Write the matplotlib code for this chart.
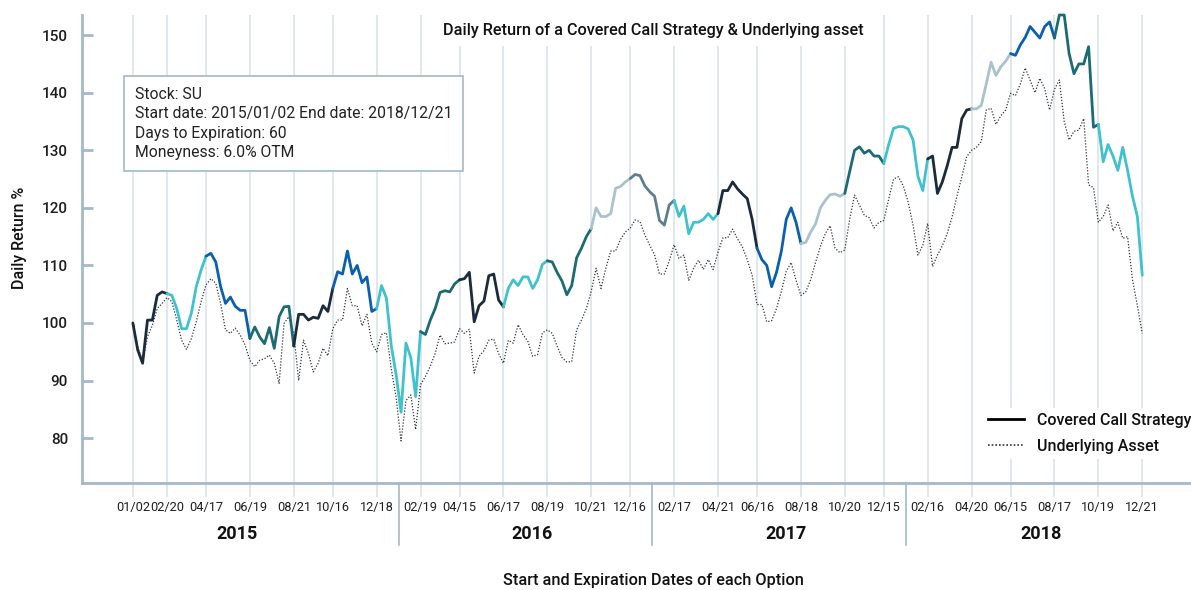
import matplotlib
matplotlib.use("Agg")
import matplotlib.pyplot as plt
import matplotlib.transforms as mtransforms
import numpy as np
import pandas as pd

plt.rcParams['font.family'] = ['Roboto', 'DejaVu Sans']

# weekly readings (every Friday from 2015-01-02 to 2018-12-21)
covered_call = [
    100.0, 95.3, 93.0, 100.5, 100.5, 104.8, 105.4, 105.1, 104.8, 102.5,
    99.0, 99.0, 101.7, 106.3, 109.2, 111.6, 112.1, 110.6, 106.3, 103.4,
    104.5, 102.9, 102.2, 102.2, 97.3, 99.3, 97.6, 96.4, 99.2, 95.6,
    101.1, 102.8, 102.9, 96.0, 101.5, 101.5, 100.5, 101.0, 100.8, 103.0,
    102.0, 106.0, 108.9, 108.5, 112.5, 108.5, 110.0, 107.0, 108.0, 102.0,
    102.5, 106.5, 104.3, 96.0, 91.0, 84.5, 96.5, 94.0, 87.2, 98.5,
    98.0, 100.5, 102.5, 105.3, 105.6, 105.4, 106.8, 107.5, 107.7, 108.8,
    100.2, 103.0, 103.8, 108.2, 108.5, 104.0, 102.8, 106.0, 107.5, 106.5,
    108.0, 108.0, 106.0, 107.5, 110.2, 110.8, 110.6, 108.8, 107.3, 104.9,
    106.5, 111.3, 113.0, 115.0, 116.4, 120.0, 118.5, 118.5, 119.0, 123.4,
    123.7, 124.5, 125.1, 125.8, 125.6, 123.8, 122.8, 122.0, 117.8, 117.0,
    120.5, 121.3, 118.5, 120.3, 115.5, 117.5, 117.5, 118.0, 119.0, 118.0,
    119.0, 123.0, 123.0, 124.5, 123.3, 122.4, 121.6, 118.0, 113.0, 111.0,
    110.0, 106.3, 108.8, 112.5, 118.0, 120.0, 117.5, 113.8, 114.0, 115.8,
    117.2, 120.0, 121.3, 122.3, 122.4, 122.0, 122.5, 126.3, 130.0, 130.6,
    129.5, 130.0, 129.0, 129.0, 127.7, 131.0, 133.8, 134.1, 134.1, 133.7,
    131.8, 125.5, 123.0, 128.5, 129.0, 122.5, 124.5, 127.3, 130.5, 130.5,
    135.5, 137.0, 137.2, 137.2, 137.8, 141.5, 145.3, 143.0, 144.5, 145.5,
    146.8, 146.5, 148.3, 149.6, 151.5, 150.5, 149.5, 151.5, 152.3, 149.5,
    153.5, 153.5, 146.8, 143.3, 145.0, 145.0, 148.0, 134.0, 134.5, 128.0,
    131.0, 129.0, 126.5, 130.5, 126.5, 122.0, 118.5, 108.3,
]

underlying = [
    100.0, 95.9, 93.3, 97.6, 99.6, 102.5, 103.4, 104.4, 103.7, 100.5,
    97.0, 95.4, 97.3, 100.2, 103.7, 106.6, 107.7, 106.9, 103.4, 98.8,
    98.2, 99.1, 97.9, 96.2, 93.5, 92.4, 93.5, 93.8, 94.4, 93.0,
    89.5, 99.9, 101.1, 98.2, 90.0, 97.0, 94.7, 91.5, 93.0, 95.6,
    94.3, 99.0, 100.5, 100.5, 106.0, 103.0, 103.0, 99.5, 101.5, 96.5,
    95.0, 98.0, 98.3, 92.0, 87.0, 79.5, 86.5, 87.5, 81.5, 89.3,
    90.7, 92.5, 94.7, 97.9, 96.4, 96.5, 96.7, 99.0, 98.2, 98.9,
    91.3, 94.2, 95.2, 97.0, 97.2, 94.7, 93.0, 97.0, 96.5, 99.7,
    98.0, 96.8, 94.2, 94.5, 98.3, 98.8, 98.2, 96.0, 94.0, 93.2,
    93.3, 98.8, 100.5, 102.5, 105.5, 109.5, 106.0, 109.5, 112.5, 112.5,
    114.5, 115.8, 116.5, 117.9, 117.6, 115.3, 113.5, 111.8, 108.5, 108.5,
    110.8, 113.6, 111.2, 111.8, 107.4, 109.5, 110.9, 109.3, 111.0, 109.3,
    112.3, 114.8, 114.8, 116.3, 114.6, 113.2, 111.0, 108.3, 103.2, 103.2,
    100.2, 100.4, 102.5, 105.5, 109.0, 110.5, 107.4, 104.8, 105.4, 107.5,
    110.5, 113.3, 115.5, 116.9, 113.0, 112.2, 112.7, 118.0, 122.2, 120.5,
    118.7, 118.3, 116.5, 117.5, 117.8, 121.5, 125.0, 125.4, 123.8, 121.0,
    117.0, 111.8, 113.5, 117.3, 109.8, 111.8, 113.4, 115.5, 118.4, 122.0,
    125.4, 128.9, 130.0, 130.5, 131.5, 137.0, 137.3, 134.5, 136.0, 137.0,
    139.9, 139.5, 141.5, 144.3, 142.2, 140.0, 142.5, 140.7, 137.0, 140.6,
    142.2, 135.0, 131.8, 133.3, 133.5, 135.5, 124.0, 123.5, 117.5, 118.5,
    120.5, 116.0, 117.5, 114.7, 115.0, 107.5, 103.0, 98.2,
]

# option start / expiration dates
expirations = [
    '2015-01-02', '2015-02-20', '2015-04-17', '2015-06-19', '2015-08-21', '2015-10-16', '2015-12-18',
    '2016-02-19', '2016-04-15', '2016-06-17', '2016-08-19', '2016-10-21', '2016-12-16',
    '2017-02-17', '2017-04-21', '2017-06-16', '2017-08-18', '2017-10-20', '2017-12-15',
    '2018-02-16', '2018-04-20', '2018-06-15', '2018-08-17', '2018-10-19', '2018-12-21',
]
years = ['2015', '2016', '2017', '2018']

navy, cyan, blue, teal, slate, pale = '#1a2b3c', '#3fc2cd', '#0a5fae', '#1d6b72', '#5c7e90', '#a9c2ce'
segment_colors = [
    navy, cyan, blue, teal, navy, blue, cyan,
    teal, navy, cyan, teal, pale, slate,
    cyan, navy, blue, pale, teal, cyan,
    navy, pale, blue, teal, cyan,
]

axis_col = '#a3b9c7'
grid_col = '#dbe4ea'
text_col = '#1e1e1e'

dates = pd.date_range('2015-01-02', periods=len(covered_call), freq='7D')
cc = np.array(covered_call)
ua = np.array(underlying)
exp_dates = pd.to_datetime(expirations)

fig = plt.figure(figsize=(11.91, 5.90), dpi=100)
ax = fig.add_axes([82 / 1191, 1 - 483 / 590, 1109 / 1191, 468 / 590])

# covered call, one colour per option period
for i in range(len(exp_dates) - 1):
    m = (dates >= exp_dates[i]) & (dates <= exp_dates[i + 1])
    ax.plot(dates[m], cc[m], color=segment_colors[i], lw=2.0, zorder=3,
            solid_capstyle='round', clip_on=False)

ax.plot(dates, ua, color='#333333', lw=0.9, linestyle=(0, (1, 1.4)), zorder=2)

start = exp_dates[0]
ax.set_xlim(start - pd.Timedelta(days=73), start + pd.Timedelta(days=1519))
ax.set_ylim(72.2, 153.5)

ax.set_xticks(exp_dates)
ax.set_xticklabels([d.strftime('%m/%d') for d in exp_dates], fontsize=9.2, color=text_col)
ax.tick_params(axis='x', direction='out', length=10, width=1.2, color=grid_col, pad=3)
ax.grid(axis='x', color=grid_col, lw=1.2, zorder=0)
ax.grid(axis='y', visible=False)

ax.set_yticks(np.arange(80, 151, 10))
ax.tick_params(axis='y', direction='in', length=8, width=2, color=axis_col, pad=10,
               labelsize=11, labelcolor=text_col)
for lab in ax.get_yticklabels():
    lab.set_fontweight('medium')

for s in ['top', 'right']:
    ax.spines[s].set_visible(False)
for s in ['left', 'bottom']:
    ax.spines[s].set_color(axis_col)
    ax.spines[s].set_linewidth(2)

# year separators and year labels under the date ticks
trans = mtransforms.blended_transform_factory(ax.transData, ax.transAxes)
for a, b in zip(exp_dates[:-1], exp_dates[1:]):
    if a.year != b.year:
        mid = a + (b - a) / 2
        ax.plot([mid, mid], [0, -62 / 468], transform=trans, color=axis_col, lw=1.2, clip_on=False)
for yr, px in zip(years, [237, 532, 786, 1041]):
    fig.text(px / 1191, 1 - 534 / 590, yr, ha='center', va='center', fontsize=13,
             fontweight='bold', color='#111111')

fig.text(653 / 1191, 1 - 30 / 590, 'Daily Return of a Covered Call Strategy & Underlying asset',
         ha='center', va='center', fontsize=11.7, fontweight='medium', color='#111111',
         bbox=dict(facecolor='white', edgecolor='none', pad=6))
fig.text(653 / 1191, 1 - 580 / 590, 'Start and Expiration Dates of each Option',
         ha='center', va='center', fontsize=11.7, fontweight='medium', color='#111111')
fig.text(20 / 1191, 1 - 238 / 590, 'Daily Return %', ha='center', va='center', rotation=90,
         fontsize=11.5, fontweight='medium', color='#111111')

info = ('Stock: SU\nStart date: 2015/01/02 End date: 2018/12/21\n'
        'Days to Expiration: 60\nMoneyness: 6.0% OTM')
ax.text((135 - 82) / 1109, 1 - (87 - 15) / 468, info, transform=ax.transAxes, ha='left', va='top',
        fontsize=11.3, color='#222222', linespacing=1.36, zorder=5,
        bbox=dict(boxstyle='square,pad=0.68', facecolor='white', edgecolor=axis_col, lw=1.2))

h1, = ax.plot([], [], color='black', lw=2, label='Covered Call Strategy')
h2, = ax.plot([], [], color='#333333', lw=1.2, linestyle=(0, (1, 1.2)), label='Underlying Asset')
leg = ax.legend(handles=[h1, h2], loc='lower right', bbox_to_anchor=(1.012, 0.035), fontsize=11.5,
                frameon=True, facecolor='white', edgecolor='none', framealpha=1,
                handlelength=2.3, handletextpad=0.8, labelspacing=0.7, borderpad=0.3)
for t in leg.get_texts():
    t.set_color('#111111')
    t.set_fontweight('medium')

fig.savefig('out.png', dpi=100)
